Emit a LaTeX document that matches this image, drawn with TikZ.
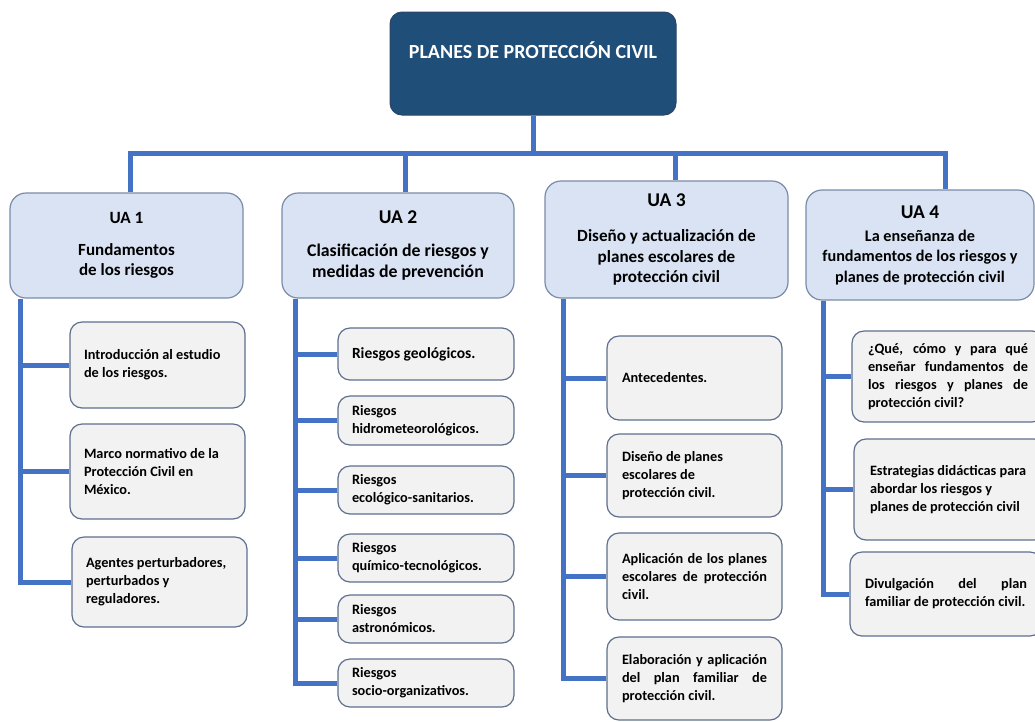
\documentclass[tikz,border=0pt]{standalone}
\usepackage{fontspec}
\setmainfont{Carlito}
\usetikzlibrary{backgrounds}
\definecolor{navy}{HTML}{1F4E79}
\definecolor{navyedge}{HTML}{2A4568}
\definecolor{linkc}{HTML}{4472C4}
\definecolor{uafill}{HTML}{DAE3F3}
\definecolor{uaedge}{HTML}{7A8CA8}
\definecolor{subfill}{HTML}{F2F2F2}
\definecolor{subedge}{HTML}{5E6F8E}
\newcommand{\jline}[2]{\makebox[#1][s]{#2}}
\newcommand{\uasize}[1]{\fontsize{#1}{20.5}\selectfont}
\tikzset{
  topbox/.style={draw=navyedge, fill=navy, rounded corners=12pt, line width=1pt, minimum width=286pt, minimum height=103pt, inner sep=0pt},
  toptext/.style={text=white, font=\fontsize{20}{22}\selectfont\bfseries, inner sep=0pt},
  uabox/.style={draw=uaedge, fill=uafill, rounded corners=16pt, line width=1.2pt, align=center, inner sep=0pt, execute at begin node={\spaceskip=0pt\xspaceskip=0pt}},
  subbox/.style={draw=subedge, fill=subfill, rounded corners=12pt, line width=1.2pt, align=left, font=\fontsize{14.3}{18}\selectfont\bfseries, inner ysep=0pt, execute at begin node={\spaceskip=0pt\xspaceskip=0pt}},
  conn/.style={draw=linkc, line width=5pt},
}
\begin{document}
\begin{tikzpicture}[x=1pt,y=-1pt]
\useasboundingbox (0,0) rectangle (1035,721);
\clip (0,0) rectangle (1035,721);
% top
\node[topbox] (top) at (533,63.5) {};
\node[toptext] (toplabel) at (533,50) {PLANES DE PROTECCIÓN CIVIL};
% UA boxes
\node[uabox, font=\uasize{17}\bfseries, minimum width=233pt, minimum height=105pt] (ua1) at (126.5,245.5) {{\uasize{17.2}UA 1}\\[11pt]Fundamentos\\de los riesgos};
\node[uabox, font=\uasize{17.8}\bfseries, minimum width=232pt, minimum height=105pt] (ua2) at (398,245.5) {{\uasize{19.5}UA 2}\\[12.5pt]Clasificación de riesgos y\\medidas de prevención};
\node[uabox, font=\uasize{17.1}\bfseries, minimum width=243pt, minimum height=117pt] (ua3) at (666.5,239.5) {{\uasize{19.5}UA 3}\\[14.5pt]Diseño y actualización de\\planes escolares de\\protección civil};
\node[uabox, font=\uasize{16.2}\bfseries, minimum width=228pt, minimum height=110pt] (ua4) at (920,245) {{\uasize{19.5}UA 4}\\[2.5pt]La enseñanza de\\fundamentos de los riesgos y\\planes de protección civil};
% UA1 children
\node[subbox, text width=147pt, inner xsep=14pt, minimum height=86pt] (c11) at (157.5,365) {Introducción al estudio\\de los riesgos.};
\node[subbox, text width=147pt, inner xsep=14pt, minimum height=95pt] (c12) at (157.5,471.5) {Marco normativo de la\\Protección Civil en\\México.};
\node[subbox, text width=147pt, inner xsep=14pt, minimum height=90pt] (c13) at (159.5,582) {Agentes perturbadores,\\perturbados y\\reguladores.};
% UA2 children
\node[subbox, text width=148pt, inner xsep=14pt, minimum height=52pt, font=\fontsize{15.5}{18}\selectfont\bfseries] (c21) at (426,354) {Riesgos geológicos.};
\node[subbox, text width=148pt, inner xsep=14pt, minimum height=49pt] (c22) at (426,420.5) {Riesgos\\hidrometeorológicos.};
\node[subbox, text width=148pt, inner xsep=14pt, minimum height=48pt] (c23) at (426,490) {Riesgos\\ecológico-sanitarios.};
\node[subbox, text width=148pt, inner xsep=14pt, minimum height=48pt] (c24) at (426,558) {Riesgos\\químico-tecnológicos.};
\node[subbox, text width=148pt, inner xsep=14pt, minimum height=48pt] (c25) at (426,619) {Riesgos\\astronómicos.};
\node[subbox, text width=148pt, inner xsep=14pt, minimum height=48pt] (c26) at (426,683) {Riesgos\\socio-organizativos.};
% UA3 children
\node[subbox, text width=145pt, inner xsep=15pt, minimum height=84pt] (c31) at (694.5,378) {Antecedentes.};
\node[subbox, text width=145pt, inner xsep=15pt, minimum height=83pt] (c32) at (694.5,475.5) {Diseño de planes\\escolares de\\protección civil.};
\node[subbox, text width=145pt, inner xsep=15pt, minimum height=87pt] (c33) at (694.5,576.5) {\jline{145pt}{Aplicación de los planes}\\\jline{145pt}{escolares de protección}\\civil.};
\node[subbox, text width=145pt, inner xsep=15pt, minimum height=83pt] (c34) at (694.5,678.5) {\jline{145pt}{Elaboración y aplicación}\\\jline{145pt}{del plan familiar de}\\protección civil.};
% UA4 children
\node[subbox, text width=160pt, inner xsep=16pt, minimum height=91pt] (c41) at (948,376.5) {\jline{160pt}{¿Qué, cómo y para qué}\\\jline{160pt}{enseñar fundamentos de}\\\jline{160pt}{los riesgos y planes de}\\protección civil?};
\node[subbox, text width=160pt, inner xsep=16pt, minimum height=101pt] (c42) at (950,489.5) {Estrategias didácticas para\\abordar los riesgos y\\planes de protección civil};
\node[subbox, text width=162pt, inner xsep=15pt, minimum height=84pt] (c43) at (946,594) {\jline{162pt}{Divulgación del plan}\\familiar de protección civil.};
% connectors
\coordinate (d1) at (130,153);
\coordinate (d2) at (405,153);
\coordinate (d3) at (675,153);
\coordinate (d4) at (945,153);
\coordinate (t1) at (20,300);
\coordinate (t2) at (295,300);
\coordinate (t3) at (563,300);
\coordinate (t4) at (823,300);
\begin{pgfonlayer}{background}
\draw[conn] (top.south) -- (top.south |- d1);
\draw[conn] (d1 |- ua1.north) -- (d1) -- (d4) -- (d4 |- ua4.north);
\draw[conn] (d2) -- (d2 |- ua2.north);
\draw[conn] (d3) -- (d3 |- ua3.north);
% UA1
\draw[conn] (ua1.south -| t1) -- (t1 |- c13.west) -- (c13.west);
\draw[conn] (t1 |- c11.west) -- (c11.west);
\draw[conn] (t1 |- c12.west) -- (c12.west);
% UA2
\draw[conn] (ua2.south -| t2) -- (t2 |- c26.west) -- (c26.west);
\foreach \c in {c21,c22,c23,c24,c25} {\draw[conn] (t2 |- \c.west) -- (\c.west);}
% UA3
\draw[conn] (ua3.south -| t3) -- (t3 |- c34.west) -- (c34.west);
\foreach \c in {c31,c32,c33} {\draw[conn] (t3 |- \c.west) -- (\c.west);}
% UA4
\draw[conn] (ua4.south -| t4) -- (t4 |- c43.west) -- (c43.west);
\foreach \c in {c41,c42} {\draw[conn] (t4 |- \c.west) -- (\c.west);}
\end{pgfonlayer}
\end{tikzpicture}
\end{document}
